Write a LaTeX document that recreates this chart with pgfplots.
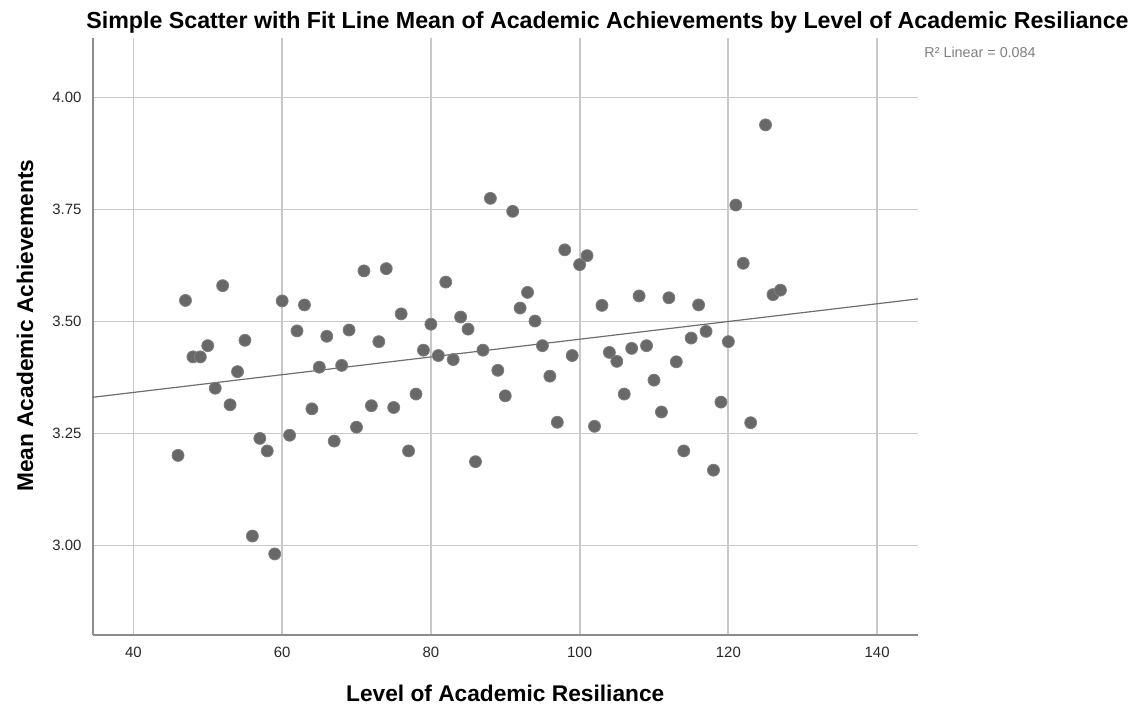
\documentclass[border=0pt]{standalone}
\usepackage{pgfplots}
\pgfplotsset{compat=1.18}
\usepackage{pgfplotstable}
\usepackage{fontspec}
\setmainfont{Liberation Sans}
\definecolor{markc}{RGB}{104,104,104}
\definecolor{gridc}{RGB}{200,200,200}
\definecolor{axisc}{RGB}{140,140,140}
\definecolor{fitc}{RGB}{110,110,110}
\definecolor{tickc}{RGB}{40,40,40}
\definecolor{rsqc}{RGB}{128,128,128}
\pgfplotstableread{
x y
46 3.201
47 3.547
48 3.421
49 3.421
50 3.446
51 3.351
52 3.580
53 3.314
54 3.388
55 3.458
56 3.021
57 3.239
58 3.211
59 2.981
60 3.546
61 3.246
62 3.479
63 3.537
64 3.305
65 3.398
66 3.467
67 3.233
68 3.402
69 3.481
70 3.264
71 3.613
72 3.312
73 3.455
74 3.618
75 3.308
76 3.517
77 3.211
78 3.338
79 3.436
80 3.494
81 3.424
82 3.588
83 3.415
84 3.510
85 3.483
86 3.187
87 3.436
88 3.775
89 3.391
90 3.334
91 3.746
92 3.530
93 3.565
94 3.501
95 3.446
96 3.378
97 3.275
98 3.660
99 3.424
100 3.627
101 3.647
102 3.266
103 3.536
104 3.431
105 3.411
106 3.338
107 3.440
108 3.557
109 3.446
110 3.369
111 3.298
112 3.553
113 3.410
114 3.211
115 3.463
116 3.537
117 3.478
118 3.168
119 3.320
120 3.455
121 3.760
122 3.630
123 3.274
125 3.939
126 3.560
127 3.570
}\pts
\begin{document}
\begin{tikzpicture}
\useasboundingbox (-46.25bp,-37bp) rectangle (518.75bp,317.5bp);
\begin{axis}[
  at={(0,0)}, anchor=south west,
  scale only axis,
  width=412.75bp, height=298.5bp,
  xmin=34.5, xmax=145.5,
  ymin=2.8, ymax=4.133,
  xtick={40,60,80,100,120,140},
  ytick={3.00,3.25,3.50,3.75,4.00},
  axis x line*=bottom, axis y line*=left,
  axis line style={axisc, line width=1bp, -},
  major tick length=0pt,
  grid=major,
  major grid style={gridc, line width=0.9bp},
  /pgf/number format/assume math mode=true,
  yticklabel={\pgfmathprintnumber[fixed,fixed zerofill,precision=2]{\tick}},
  ticklabel style={font=\fontsize{7.5}{9}\selectfont, text=tickc},
  yticklabel style={xshift=-2bp},
  xticklabel style={yshift=-2.6bp},
  xlabel={Level of Academic Resiliance},
  ylabel={Mean Academic Achievements},
  label style={font=\fontsize{11.4}{13}\selectfont\bfseries},
  xlabel style={at={(axis description cs:0.5,-0.0972)}, anchor=center},
  ylabel style={at={(axis description cs:-0.0818,0.518)}, anchor=center},
  every axis title shift=0pt,
  title={Simple Scatter with Fit Line Mean of Academic Achievements by Level of Academic Resiliance},
  title style={at={(axis description cs:0.6239,1.0163)}, anchor=base, font=\fontsize{11.65}{13}\selectfont\bfseries, inner sep=0pt},
  clip=false,
]
\addplot[only marks, mark=*, mark size=3bp, mark options={fill=markc, draw=markc!85!white, line width=0.4bp}] table[x=x,y=y] {\pts};
\addplot[fitc, line width=0.6bp, no marks] coordinates {(34.5,3.3307) (145.5,3.5505)};
\node[anchor=base west, font=\fontsize{7.2}{8}\selectfont, text=rsqc, inner sep=0pt] at (rel axis cs:1.0073,0.9665) {R² Linear = 0.084};
\end{axis}
\end{tikzpicture}
\end{document}
